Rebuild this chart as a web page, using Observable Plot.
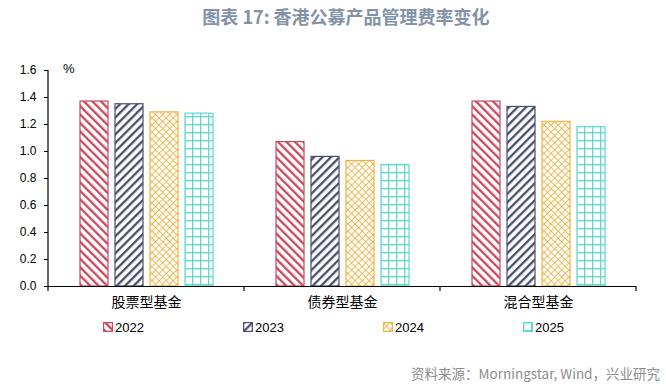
<!DOCTYPE html>
<html>
<head>
<meta charset="utf-8">
<script src="https://cdn.jsdelivr.net/npm/d3@7"></script>
<script src="https://cdn.jsdelivr.net/npm/@observablehq/plot@0.6"></script>
<style>
  html, body { margin: 0; padding: 0; background: #fff; }
  #wrap { position: relative; width: 666px; height: 386px; overflow: hidden; font-family: "Liberation Sans", Arial, sans-serif; }
  #title { position: absolute; left: 13px; top: 2px; width: 666px; text-align: center; font-family: "Noto Sans CJK SC", sans-serif; font-weight: bold; font-size: 18px; color: #8292a8; line-height: 28px; }
  #chart { position: absolute; left: 0; top: 36px; }
  #unit { position: absolute; left: 63px; top: 61px; font-size: 13px; color: #000; }
  #legend { position: absolute; left: 103px; top: 319px; display: flex; }
  .item { width: 140px; display: flex; align-items: center; font-size: 13px; color: #000; height: 16px; }
  .item svg { margin-right: 2px; }
  #source { position: absolute; right: 6px; top: 363px; font-family: "Noto Sans CJK SC", sans-serif; font-size: 13.5px; color: #8c8c8c; }
</style>
</head>
<body>
<svg width="0" height="0" style="position:absolute">
  <defs>
    <pattern id="p2022" patternUnits="userSpaceOnUse" width="6" height="6" patternTransform="rotate(-45)">
      <rect width="6" height="6" fill="#fff"/>
      <rect x="0" y="0" width="2.3" height="6" fill="#c8485c"/>
    </pattern>
    <pattern id="p2023" patternUnits="userSpaceOnUse" width="6" height="6" patternTransform="rotate(45)">
      <rect width="6" height="6" fill="#fff"/>
      <rect x="0" y="0" width="2.3" height="6" fill="#474f6e"/>
    </pattern>
    <pattern id="p2024" patternUnits="userSpaceOnUse" width="5" height="5" patternTransform="rotate(45)">
      <rect width="5" height="5" fill="#fff"/>
      <rect x="0" y="0" width="0.9" height="5" fill="#f0b444"/>
      <rect x="0" y="0" width="5" height="0.9" fill="#f0b444"/>
    </pattern>
    <pattern id="p2025" patternUnits="userSpaceOnUse" width="8" height="8">
      <rect width="8" height="8" fill="#fff"/>
      <rect x="0" y="0" width="1.3" height="8" fill="#5fd8d2"/>
      <rect x="0" y="0" width="8" height="1.3" fill="#5fd8d2"/>
    </pattern>
  </defs>
</svg>
<div id="wrap">
  <div id="title">图表 17: 香港公募产品管理费率变化</div>
  <div id="chart"></div>
  <div id="unit">%</div>
  <div id="legend"></div>
  <div id="source">资料来源：Morningstar, Wind，兴业研究</div>
</div>
<script>
const categories = ["股票型基金", "债券型基金", "混合型基金"];
const years = ["2022", "2023", "2024", "2025"];
const v2022 = [1.37, 1.07, 1.37];
const v2023 = [1.35, 0.96, 1.33];
const v2024 = [1.29, 0.93, 1.22];
const v2025 = [1.28, 0.90, 1.18];
const yTicks = [0, 0.2, 0.4, 0.6, 0.8, 1.0, 1.2, 1.4, 1.6];
const strokeColors = ["#c8485c", "#474f6e", "#f0b444", "#5fd8d2"];

const series = [v2022, v2023, v2024, v2025];
const data = categories.flatMap((c, i) => years.map((y, j) => ({category: c, year: y, value: series[j][i]})));

const barMarks = years.map((y, j) => Plot.barY(data.filter(d => d.year === y), {
  fx: "category", x: "year", y: "value",
  fill: `url(#p${y})`, stroke: strokeColors[j], strokeWidth: 1.2
}));

const plot = Plot.plot({
  width: 666, height: 280,
  marginLeft: 48, marginRight: 30, marginTop: 34, marginBottom: 30,
  style: {fontFamily: "'Liberation Sans', Arial, sans-serif", fontSize: "12px", color: "#000", background: "transparent"},
  fx: {domain: categories, padding: 0, label: null},
  x: {domain: years, paddingInner: 0.21, paddingOuter: 0.865, axis: null},
  y: {domain: [0, 1.6], label: null},
  marks: [
    ...barMarks,
    Plot.ruleY([0], {stroke: "#000", strokeWidth: 1.2}),
    Plot.axisY({ticks: yTicks, tickFormat: d => d.toFixed(1), tickSize: 4, tickPadding: 8, fontSize: 12, label: null, stroke: "#000"}),
    Plot.axisFx({anchor: "bottom", tickSize: 0, tickPadding: 11, fontSize: 14, fontFamily: "'Noto Sans CJK SC', sans-serif", label: null})
  ]
});

// axis line and category boundary ticks, positioned through Plot's own scales
try {
  const ys = plot.scale("y");
  const fxs = plot.scale("fx");
  const svg = d3.select(plot.tagName === "svg" ? plot : plot.querySelector("svg"));
  const y0 = ys.apply(0), y1 = ys.apply(1.6);
  const bw = fxs.bandwidth;
  const starts = categories.map(c => fxs.apply(c));
  const x0 = starts[0];
  svg.append("line").attr("x1", x0).attr("x2", x0).attr("y1", y1).attr("y2", y0)
    .attr("stroke", "#000").attr("stroke-width", 1.2);
  const bounds = [...starts, starts[starts.length - 1] + bw];
  bounds.forEach(b => {
    svg.append("line").attr("x1", b).attr("x2", b).attr("y1", y0).attr("y2", y0 + 5)
      .attr("stroke", "#000").attr("stroke-width", 1.2);
  });
} catch (e) { console.error(e); }

document.getElementById("chart").appendChild(plot);

const legend = document.getElementById("legend");
years.forEach((y, j) => {
  const item = document.createElement("div");
  item.className = "item";
  item.innerHTML = `<svg width="10" height="10"><rect x="0.6" y="0.6" width="8.8" height="8.8" fill="url(#p${y})" stroke="${strokeColors[j]}" stroke-width="1.2"/></svg><span>${y}</span>`;
  legend.appendChild(item);
});
</script>
</body>
</html>
